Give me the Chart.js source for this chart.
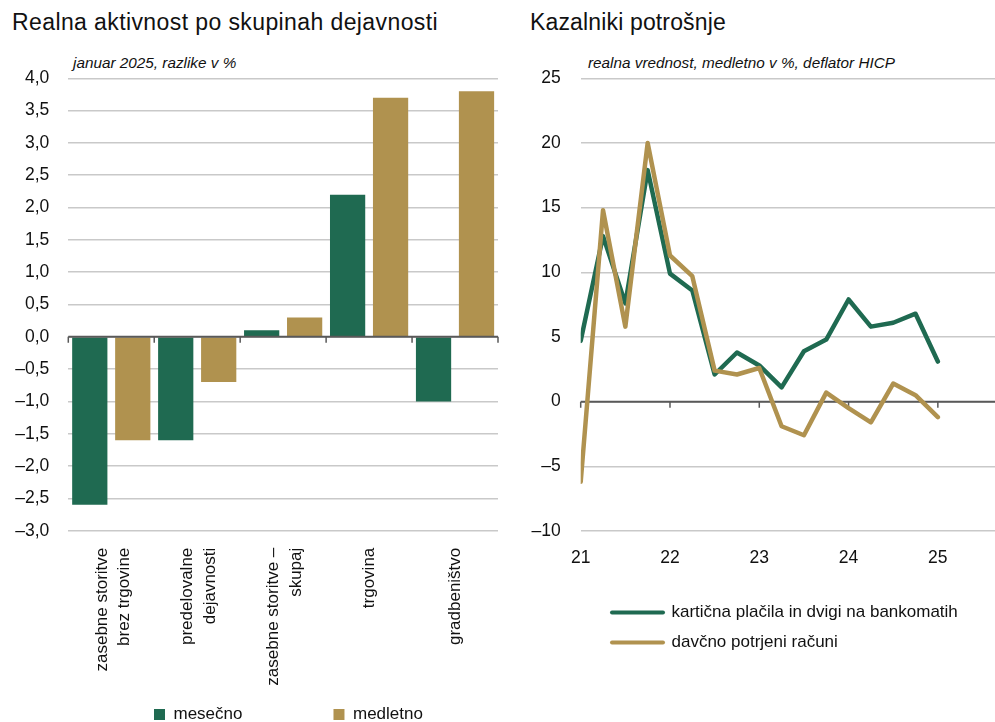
<!DOCTYPE html>
<html lang="sl">
<head>
<meta charset="utf-8">
<title>Realna aktivnost in kazalniki potrošnje</title>
<script src="https://cdn.jsdelivr.net/npm/chart.js@4.4.1/dist/chart.umd.min.js"></script>
<style>
  html, body { margin: 0; padding: 0; background: #fff; }
  body {
    position: relative;
    width: 995px;
    height: 722px;
    overflow: hidden;
    font-family: 'Liberation Sans', Arial, sans-serif;
    color: #111;
  }
  .title { position: absolute; top: 10.5px; font-size: 23px; line-height: 23px; white-space: nowrap; }
  .note { position: absolute; top: 55px; font-size: 15.3px; line-height: 15.3px; font-style: italic; white-space: nowrap; }
  canvas { position: absolute; top: 0; }
</style>
</head>
<body>
<div class="title" style="left:12px; letter-spacing:0.4px">Realna aktivnost po skupinah dejavnosti</div>
<div class="note" style="left:73px">januar 2025, razlike v %</div>
<div class="title" style="left:530px; letter-spacing:0.15px">Kazalniki potrošnje</div>
<div class="note" style="left:588px">realna vrednost, medletno v %, deflator HICP</div>

<canvas id="activity" width="500" height="950" style="left:0"></canvas>
<canvas id="spending" width="475" height="722" style="left:520px"></canvas>

<script>
// Two panels: bar chart of activity by sector (left), consumption
// indicators as quarterly lines (right).

// ---------------------------------------------------------------------------
// Data
// ---------------------------------------------------------------------------

var activityGroups = [
  ['zasebne storitve', 'brez trgovine'],
  ['predelovalne', 'dejavnosti'],
  ['zasebne storitve \u2013', 'skupaj'],
  'trgovina',
  'gradbeništvo',
];
var activityMonthly = [-2.6, -1.6, 0.1, 2.2, -1.0];  // mesečno
var activityYearly = [-1.6, -0.7, 0.3, 3.7, 3.8];    // medletno

// quarters, 21 = 2021 Q1
var quarters = [21, 21.25, 21.5, 21.75, 22, 22.25, 22.5, 22.75, 23,
                23.25, 23.5, 23.75, 24, 24.25, 24.5, 24.75, 25];
var cardPayments = [4.7, 12.8, 7.6, 17.9, 9.9, 8.6, 2.1, 3.8, 2.8,
                    1.1, 3.9, 4.8, 7.9, 5.8, 6.1, 6.8, 3.1];
var fiscalReceipts = [-6.2, 14.8, 5.8, 20.0, 11.3, 9.7, 2.4, 2.1, 2.6,
                      -1.9, -2.6, 0.7, -0.5, -1.6, 1.4, 0.5, -1.2];
var yearTicks = [21, 22, 23, 24, 25];

// ---------------------------------------------------------------------------
// Look
// ---------------------------------------------------------------------------

var GREEN = '#1f6a51';
var GOLD = '#b0924f';
var TEXT = '#111111';
var GRID = '#c9c9c9';
var AXIS = '#595959';

Chart.defaults.font.family = "'Liberation Sans', Arial, sans-serif";
Chart.defaults.color = TEXT;

function withMinus(text) {
  return text.replace('-', '\u2013');
}

function pairs(xs, ys) {
  return xs.map(function (x, i) { return { x: x, y: ys[i] }; });
}

// Dark zero line with small tick marks hanging below it.
function drawZeroAxis(chart, opts) {
  var xs = chart.scales.x;
  var y0 = chart.scales.y.getPixelForValue(0);
  var area = chart.chartArea;
  var ctx = chart.ctx;
  var marks = [];

  if (opts.marks === 'categories') {
    for (var i = 0; i <= chart.data.labels.length; i++) {
      marks.push(xs.getPixelForValue(i - 0.5));
    }
  } else {
    xs.ticks.forEach(function (t) { marks.push(xs.getPixelForValue(t.value)); });
  }

  ctx.save();
  ctx.strokeStyle = AXIS;
  ctx.lineWidth = 2;
  ctx.beginPath();
  ctx.moveTo(area.left, y0);
  ctx.lineTo(area.right, y0);
  ctx.stroke();
  ctx.lineWidth = 1.5;
  ctx.beginPath();
  marks.forEach(function (px) {
    ctx.moveTo(px, y0);
    ctx.lineTo(px, y0 + 6);
  });
  ctx.stroke();
  ctx.restore();
}

var zeroAxis = {
  id: 'zeroAxis',
  beforeDatasetsDraw: function (chart, args, opts) {
    if (!opts.onTop) drawZeroAxis(chart, opts);
  },
  afterDatasetsDraw: function (chart, args, opts) {
    if (opts.onTop) drawZeroAxis(chart, opts);
  },
};

// Put the legend's first item at a given spot of the canvas.
var legendPlace = {
  id: 'legendPlace',
  afterLayout: function (chart, args, opts) {
    var lg = chart.legend;
    if (!lg) return;
    var pad = lg.options.labels.padding;
    var w = lg.width;
    var h = lg.height;
    lg.left = opts.x - pad;
    lg.right = lg.left + w;
    lg.top = opts.y - pad;
    lg.bottom = lg.top + h;
  },
};

// Rotated multi-line labels start on the tick; pull the block back
// so it sits (nearly) centred on it, as in the original.
var centreLabels = {
  id: 'centreLabels',
  beforeDraw: function (chart) {
    chart.scales.x.getLabelItems().forEach(function (item) {
      var lines = Array.isArray(item.label) ? item.label.length : 1;
      if (lines > 1 && !item.centred && item.options && item.options.translation) {
        item.options.translation[0] -= (lines - 1) * item.font.lineHeight * 0.41;
        item.centred = true;
      }
    });
  },
};

// ---------------------------------------------------------------------------
// Left: Realna aktivnost po skupinah dejavnosti
// ---------------------------------------------------------------------------

new Chart(document.getElementById('activity'), {
  type: 'bar',
  data: {
    labels: activityGroups,
    datasets: [
      { label: 'mesečno', data: activityMonthly, backgroundColor: GREEN, borderWidth: 0 },
      { label: 'medletno', data: activityYearly, backgroundColor: GOLD, borderWidth: 0 },
    ],
  },
  options: {
    responsive: false,
    animation: false,
    events: [],
    layout: { padding: { top: 78.3, right: 2 } },
    datasets: { bar: { barPercentage: 0.82, categoryPercentage: 1 } },
    scales: {
      x: {
        grid: { display: false },
        border: { display: false },
        ticks: {
          autoSkip: false,
          minRotation: 90,
          maxRotation: 90,
          padding: 9,
          font: { size: 17, lineHeight: 1.35 },
        },
        afterFit: function (s) {
          s.height = s.chart.height - s.chart.legend.height - 530.7;
        },
      },
      y: {
        min: -3,
        max: 4,
        grid: { color: GRID, lineWidth: 1.5, drawTicks: false },
        border: { display: false },
        ticks: {
          stepSize: 0.5,
          padding: 19,
          font: { size: 17.5 },
          callback: function (v) {
            return withMinus(Number(v).toFixed(1).replace('.', ','));
          },
        },
        afterFit: function (s) { s.width = 68.3; },
      },
    },
    plugins: {
      legend: {
        position: 'bottom',
        align: 'start',
        labels: { boxWidth: 11, boxHeight: 11, padding: 91, font: { size: 17 } },
      },
      tooltip: { enabled: false },
      zeroAxis: { onTop: true, marks: 'categories' },
      legendPlace: { x: 154, y: 706 },
    },
  },
  plugins: [zeroAxis, legendPlace, centreLabels],
});

// ---------------------------------------------------------------------------
// Right: Kazalniki potrošnje
// ---------------------------------------------------------------------------

new Chart(document.getElementById('spending'), {
  type: 'line',
  data: {
    datasets: [
      {
        label: 'kartična plačila in dvigi na bankomatih',
        data: pairs(quarters, cardPayments),
        borderColor: GREEN,
        backgroundColor: GREEN,
        borderWidth: 4.5,
        order: 1,
      },
      {
        label: 'davčno potrjeni računi',
        data: pairs(quarters, fiscalReceipts),
        borderColor: GOLD,
        backgroundColor: GOLD,
        borderWidth: 4.5,
        order: 0,
      },
    ],
  },
  options: {
    responsive: false,
    animation: false,
    events: [],
    layout: { padding: { top: 78.3 } },
    elements: {
      line: { tension: 0, borderCapStyle: 'round', borderJoinStyle: 'round' },
      point: { radius: 0 },
    },
    scales: {
      x: {
        type: 'linear',
        min: 21,
        max: 25.64,
        grid: { display: false },
        border: { display: false },
        afterBuildTicks: function (s) {
          s.ticks = yearTicks.map(function (v) { return { value: v }; });
        },
        ticks: {
          padding: 9,
          font: { size: 17.5 },
          callback: function (v) { return String(v); },
        },
        afterFit: function (s) {
          s.height = s.chart.height - s.chart.legend.height - 531;
        },
      },
      y: {
        min: -10,
        max: 25,
        grid: { color: GRID, lineWidth: 1.5, drawTicks: false },
        border: { display: false },
        ticks: {
          stepSize: 5,
          padding: 20,
          font: { size: 17.5 },
          callback: function (v) { return withMinus(String(v)); },
        },
        afterFit: function (s) { s.width = 60.7; },
      },
    },
    plugins: {
      legend: {
        position: 'bottom',
        align: 'start',
        labels: {
          usePointStyle: true,
          pointStyle: 'line',
          pointStyleWidth: 51,
          padding: 13,
          font: { size: 17 },
          sort: function (a, b) { return a.datasetIndex - b.datasetIndex; },
          generateLabels: function (chart) {
            var items = Chart.defaults.plugins.legend.labels.generateLabels(chart);
            items.forEach(function (item) {
              item.lineCap = 'round';
              item.lineWidth = 4;
            });
            return items;
          },
        },
      },
      tooltip: { enabled: false },
      zeroAxis: { onTop: false, marks: 'ticks' },
      legendPlace: { x: 92, y: 604 },
    },
  },
  plugins: [zeroAxis, legendPlace],
});
</script>
</body>
</html>
